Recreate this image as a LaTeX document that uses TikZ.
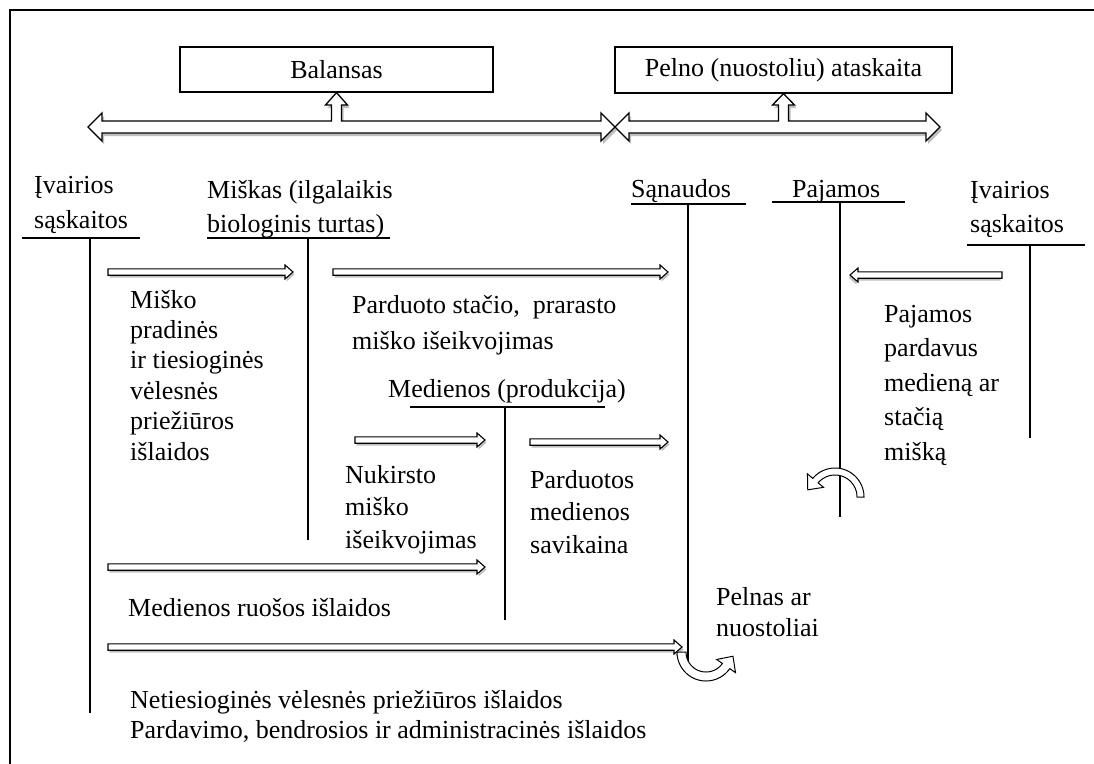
\documentclass[tikz,border=0pt]{standalone}
\usepackage{fontspec}
\setmainfont{Liberation Serif}
\tikzset{
  lbl/.style={font=\fontsize{26}{#1}\selectfont, inner sep=0pt, anchor=base west, align=left},
  lbl/.default=30.4,
  box/.style={draw, line width=1.2pt, inner sep=0pt, font=\fontsize{26}{30.4}\selectfont},
  tline/.style={line width=1.5pt},
  dblarr/.style={draw, line width=1.3pt, fill=white, line join=miter},
  arrst/.style={draw, line width=1.1pt, fill=white, line join=miter},
  shad/.style={fill=black!25},
  carrst/.style={draw, line width=1pt, fill=white, line join=miter},
  pics/harr/.style={code={
    \fill[shad] (1.5,-0.7) -- (#1-6.5,-0.7) -- (#1-6.5,-4.5) -- (#1+1.5,2.5) -- (#1-6.5,9.5) -- (#1-6.5,5.7) -- (1.5,5.7) -- cycle;
    \path[arrst] (0,-3.2) -- (#1-8,-3.2) -- (#1-8,-7) -- (#1,0) -- (#1-8,7) -- (#1-8,3.2) -- (0,3.2) -- cycle;
  }},
  pics/carr/.style n args={4}{code={
    \pgfmathsetmacro\carrmid{(#3+#4)/2}
    \path[carrst] plot[domain=#1:#2,samples=40] ({#3*cos(\x)},{#3*sin(\x)})
      -- ({(#3+7)*cos(#2)},{(#3+7)*sin(#2)})
      -- ({\carrmid*cos(#2)+12*sin(#2)},{\carrmid*sin(#2)-12*cos(#2)})
      -- ({(#4-7)*cos(#2)},{(#4-7)*sin(#2)})
      -- plot[domain=#2:#1,samples=40] ({#4*cos(\x)},{#4*sin(\x)}) -- cycle;
  }}
}
\begin{document}
\begin{tikzpicture}[x=1pt,y=-1pt]
\useasboundingbox (0,0) rectangle (1094,763);
% frame
\draw[line width=2pt] (10,775) -- (10,10) -- (1105,10);

% top boxes
\node[box, minimum width=313, minimum height=45] (bal) at (336.5,69.5) {Balansas};
\node[box, minimum width=337, minimum height=46] (pel) at (783.5,70) {Pelno (nuostoliu) ataskaita};

% top double arrows (shadows)
\begin{scope}[shift={(2,3)}]
\fill[shad] (88,127) -- (102,113) -- (102,121) -- (331.5,121) -- (331.5,105) -- (325.5,105) -- (336.5,92) -- (347.5,105) -- (341.5,105) -- (341.5,121) -- (601,121) -- (601,113) -- (615,127) -- (601,141) -- (601,133) -- (102,133) -- (102,141) -- cycle;
\fill[shad] (615,127) -- (629,113) -- (629,121) -- (778.5,121) -- (778.5,105) -- (772.5,105) -- (783.5,93) -- (794.5,105) -- (788.5,105) -- (788.5,121) -- (926,121) -- (926,113) -- (940,127) -- (926,141) -- (926,133) -- (629,133) -- (629,141) -- cycle;
\end{scope}
\path[dblarr] (88,127) -- (102,113) -- (102,121) -- (331.5,121) -- (331.5,105) -- (325.5,105) -- (bal.south) -- (347.5,105) -- (341.5,105) -- (341.5,121) -- (601,121) -- (601,113) -- (615,127) -- (601,141) -- (601,133) -- (102,133) -- (102,141) -- cycle;
\path[dblarr] (615,127) -- (629,113) -- (629,121) -- (778.5,121) -- (778.5,105) -- (772.5,105) -- (pel.south) -- (794.5,105) -- (788.5,105) -- (788.5,121) -- (926,121) -- (926,113) -- (940,127) -- (926,141) -- (926,133) -- (629,133) -- (629,141) -- cycle;

% account titles (anchor = baseline of last line)
\node[lbl=35] (ivl) at (34,228) {Įvairios\\sąskaitos};
\node[lbl=34] (misk) at (207,232) {Miškas (ilgalaikis\\biologinis turtas)};
\node[lbl] (san) at (631,197) {Sąnaudos};
\node[lbl] (paj) at (792,197) {Pajamos};
\node[lbl=34] (ivr) at (970,232) {Įvairios\\sąskaitos};
\node[lbl] (med) at (388,397) {Medienos (produkcija)};

% T-account lines
\draw[tline] (22,238) -- (140,238);
\draw[tline] (90,238) -- (90,713);
\draw[tline] (207,238) -- (390,238);
\draw[tline] (308,238) -- (308,540);
\draw[tline] (410,407) -- (605,407);
\draw[tline] (505,407) -- (505,620);
\draw[tline] (631,204) -- (746,204);
\draw[tline] (688,204) -- (688,675);
\draw[tline] (772,202) -- (905,202);
\draw[tline] (840,202) -- (840,517);
\draw[tline] (967,245) -- (1085,245);
\draw[tline] (1030,245) -- (1030,438);

% flow arrows
\pic at (108,272) {harr=185};
\pic at (333,272) {harr=335};
\pic at (355,440) {harr=130};
\pic at (530,442) {harr=138};
\pic at (108,567) {harr=377};
\pic at (108,647) {harr=574};
\pic[xscale=-1] at (1002,275) {harr=152};

% curved arrows
\pic at (835,497) {carr={0}{-140}{29}{22}};
\pic at (706,652) {carr={180}{35}{29}{20}};

% texts (anchor = baseline of last line)
\node[lbl] (t1) at (130,460) {Miško\\pradinės\\ir tiesioginės\\vėlesnės\\priežiūros\\išlaidos};
\node[lbl=36] (t2) at (352,349) {Parduoto stačio,\ \ prarasto\\miško išeikvojimas};
\node[lbl=32.5] (nuk) at (345,548) {Nukirsto\\miško\\išeikvojimas};
\node[lbl=32.5] (pard) at (530,553) {Parduotos\\medienos\\savikaina};
\node[lbl] (ruos) at (128,616) {Medienos ruošos išlaidos};
\node[lbl=30] (neties) at (130,738) {Netiesioginės vėlesnės priežiūros išlaidos\\Pardavimo, bendrosios ir administracinės išlaidos};
\node[lbl=31] (peln) at (716,636) {Pelnas ar\\nuostoliai};
\node[lbl=34.5] (pajt) at (884,460) {Pajamos\\pardavus\\medieną ar\\stačią\\mišką};
\end{tikzpicture}
\end{document}
